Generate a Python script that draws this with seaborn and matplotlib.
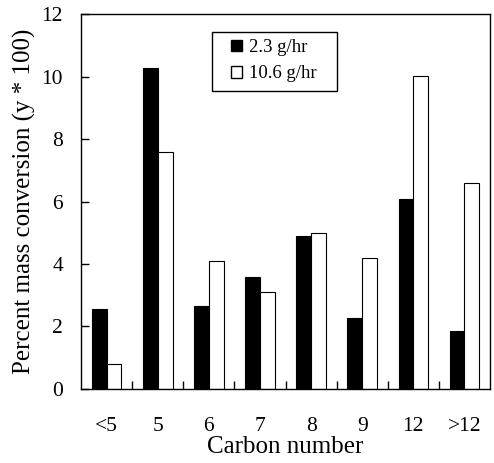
import matplotlib
matplotlib.use("Agg")
import matplotlib.pyplot as plt
import seaborn as sns
import pandas as pd
from matplotlib.patches import Patch, Rectangle

categories = ["<5", "5", "6", "7", "8", "9", "12", ">12"]
series_names = ["2.3 g/hr", "10.6 g/hr"]
low_rate = [2.57, 10.27, 2.67, 3.59, 4.90, 2.28, 6.08, 1.87]
high_rate = [0.80, 7.60, 4.09, 3.11, 4.99, 4.19, 10.02, 6.59]
y_ticks = [0, 2, 4, 6, 8, 10, 12]

df = pd.DataFrame({
    "cat": categories * 2,
    "val": low_rate + high_rate,
    "series": [series_names[0]] * len(categories) + [series_names[1]] * len(categories),
})

sns.set_style("ticks")
plt.rcParams["font.family"] = ["Liberation Serif", "DejaVu Serif"]
plt.rcParams["text.color"] = "black"
plt.rcParams["axes.labelcolor"] = "black"
plt.rcParams["xtick.color"] = "black"
plt.rcParams["ytick.color"] = "black"

fig = plt.figure(figsize=(4.94, 4.63), dpi=100)
ax = fig.add_axes([0.164, 0.160, 0.828, 0.809])

sns.barplot(data=df, x="cat", y="val", hue="series", order=categories,
            hue_order=series_names, palette=["black", "white"],
            edgecolor="black", linewidth=0.8, width=0.58, ax=ax,
            legend=False, errorbar=None, saturation=1)

ax.set_xlim(-0.5, len(categories) - 0.5)
ax.set_ylim(0, 12)
ax.set_yticks(y_ticks)
ax.set_yticklabels([str(t) for t in y_ticks], fontsize=15.5)
ax.set_xticks(range(len(categories)))
ax.set_xticklabels(categories, fontsize=15.5)
ax.set_xticks([i + 0.5 for i in range(len(categories) - 1)], minor=True)
ax.tick_params(axis="x", which="major", length=0, pad=20)
ax.tick_params(axis="x", which="minor", direction="in", length=6, width=1)
ax.tick_params(axis="y", direction="in", length=6, width=1, pad=13)
ax.set_xlabel("Carbon number", fontsize=18, labelpad=0)
ax.set_ylabel("Percent mass conversion (y * 100)", fontsize=18, labelpad=4)
for s in ax.spines.values():
    s.set_visible(True)
    s.set_color("black")
    s.set_linewidth(1.0)

# legend frame (drawn separately to get the wide side padding)
ax.add_patch(Rectangle((0.320, 0.795), 0.306, 0.157, transform=ax.transAxes,
                       facecolor="white", edgecolor="black", linewidth=1.0,
                       zorder=4, clip_on=False))
handles = [Patch(facecolor="black", edgecolor="black"),
           Patch(facecolor="white", edgecolor="black")]
leg = ax.legend(handles, series_names, loc="upper left",
                bbox_to_anchor=(0.367, 0.934), fontsize=13.5, frameon=False,
                handlelength=0.58, handleheight=0.58, handletextpad=0.37,
                borderpad=0, labelspacing=0.5, borderaxespad=0)
leg.set_zorder(5)

fig.savefig("out.png", dpi=100)
